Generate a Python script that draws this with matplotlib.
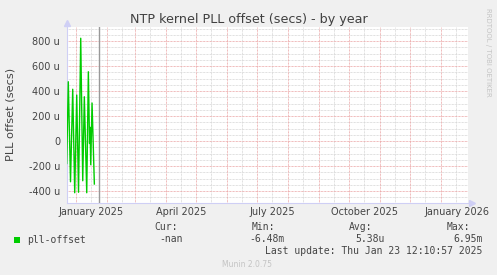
import numpy as np
import matplotlib
matplotlib.use('Agg')
import matplotlib.pyplot as plt
from datetime import datetime, timedelta

# data: days after 2025-01-01, offset in microseconds
day_offsets = [-8.8, -7.2, -5.0, -2.8, -0.8, 1.2, 3.0, 5.2, 7.2, 8.8,
               11.2, 12.8, 14.0, 14.5, 15.2, 16.5, 18.8]
offset_us = [-180, 474, -326, 414, -414, 368, -410, 822, -318, 354,
             -414, 554, -20, 110, -190, 304, -344]

ytick_vals = [-400, -200, 0, 200, 400, 600, 800]
ytick_labels = ['-400 u', '-200 u', '0', '200 u', '400 u', '600 u', '800 u']
quarter_labels = ['January 2025', 'April 2025', 'July 2025', 'October 2025', 'January 2026']
quarter_starts = ['2025-01-01', '2025-04-01', '2025-07-01', '2025-10-01', '2026-01-01']

legend_name = 'pll-offset'
stat_heads = ['Cur:', 'Min:', 'Avg:', 'Max:']
stat_vals = ['-nan', '-6.48m', '5.38u', '6.95m']
last_update = 'Last update: Thu Jan 23 12:10:57 2025'

base = datetime(2025, 1, 1)
t = [base + timedelta(days=d) for d in day_offsets]
start = base - timedelta(days=8.8)
end = start + timedelta(days=400)
now_line = base + timedelta(days=23.2)

W, H = 497, 275
fig = plt.figure(figsize=(W / 100, H / 100), dpi=100, facecolor='#f0f0f0')
ax = fig.add_axes([66.7 / W, 1 - 203 / H, 400.8 / W, 176 / H])
ax.set_facecolor('white')

txt = '#444444'
major_c = '#eba5a5'
minor_c = '#d6d6d6'
dash = (0, (0.72, 0.72))

# horizontal grid
for v in np.arange(-450, 901, 50):
    if v % 200 == 0:
        continue
    ax.axhline(v, color=minor_c, lw=0.72, ls=dash, zorder=1)
for v in ytick_vals:
    ax.axhline(v, color=major_c, lw=0.72, ls=dash, zorder=2)

# vertical grid: months (major) and mid-months (minor)
months = []
d = datetime(2024, 12, 1)
while d < end:
    months.append(d)
    d = datetime(d.year + (d.month // 12), d.month % 12 + 1, 1)
for m in months:
    mid = m + timedelta(days=15)
    if start < mid < end:
        ax.axvline(mid, color=minor_c, lw=0.72, ls=dash, zorder=1)
    if start < m < end:
        ax.axvline(m, color=major_c, lw=0.72, ls=dash, zorder=2)

ax.plot(t, offset_us, color='#00cc00', lw=1.0, zorder=4)
ax.axvline(now_line, color='#999999', lw=1.0, zorder=5)

ax.set_xlim(start, end)
ax.set_ylim(-496, 912)

ax.set_yticks(ytick_vals)
ax.set_yticklabels(ytick_labels)
label_pos = [datetime.strptime(s, '%Y-%m-%d') + timedelta(days=15.5) for s in quarter_starts]
ax.set_xticks(label_pos)
ax.set_xticklabels(quarter_labels)
ax.tick_params(axis='both', length=0, labelsize=7, labelcolor=txt)
ax.tick_params(axis='y', pad=4.8)
ax.tick_params(axis='x', pad=3.0)

for s in ['top', 'right']:
    ax.spines[s].set_visible(False)
for s in ['left', 'bottom']:
    ax.spines[s].set_color('#cfcff5')
    ax.spines[s].set_linewidth(0.8)

# axis arrows
ax.plot([0], [1.02], marker='^', ms=4, color='#cfcff5', transform=ax.transAxes, clip_on=False)
ax.plot([1.01], [0], marker='>', ms=4, color='#cfcff5', transform=ax.transAxes, clip_on=False)

def px(x, y):
    return x / W, 1 - y / H

fig.text(*px(248.5, 19), 'NTP kernel PLL offset (secs) - by year', ha='center', va='center',
         fontsize=9.2, color='#404040')
fig.text(*px(11, 114), 'PLL offset (secs)', rotation=90, ha='center', va='center',
         fontsize=8.2, color=txt)
fig.text(*px(488, 52), 'RRDTOOL / TOBI OETIKER', rotation=270, ha='center', va='center',
         fontsize=5.0, color='#c4c4c4')

mono = 'DejaVu Sans Mono'
fig.patches.append(plt.Rectangle(px(14, 242.7), 6 / W, 5.4 / H, transform=fig.transFigure,
                                 facecolor='#00cc00', edgecolor='none'))
fig.text(*px(26.7, 240), legend_name, ha='left', va='center', fontsize=7, family=mono, color=txt)
head_x = [154, 251.7, 349.3, 446.7]
val_right = [183, 285, 385, 482.7]
for hx, h in zip(head_x, stat_heads):
    fig.text(*px(hx, 227), h, ha='left', va='center', fontsize=7, family=mono, color=txt)
for vx, v in zip(val_right, stat_vals):
    fig.text(*px(vx, 239.5), v, ha='right', va='center', fontsize=7, family=mono, color=txt)
fig.text(*px(482.7, 251), last_update, ha='right', va='center', fontsize=7, family=mono, color=txt)
fig.text(*px(247.5, 264.5), 'Munin 2.0.75', ha='center', va='center', fontsize=5.5, color='#c4c4c4')

fig.savefig('out.png', dpi=100, facecolor=fig.get_facecolor())
